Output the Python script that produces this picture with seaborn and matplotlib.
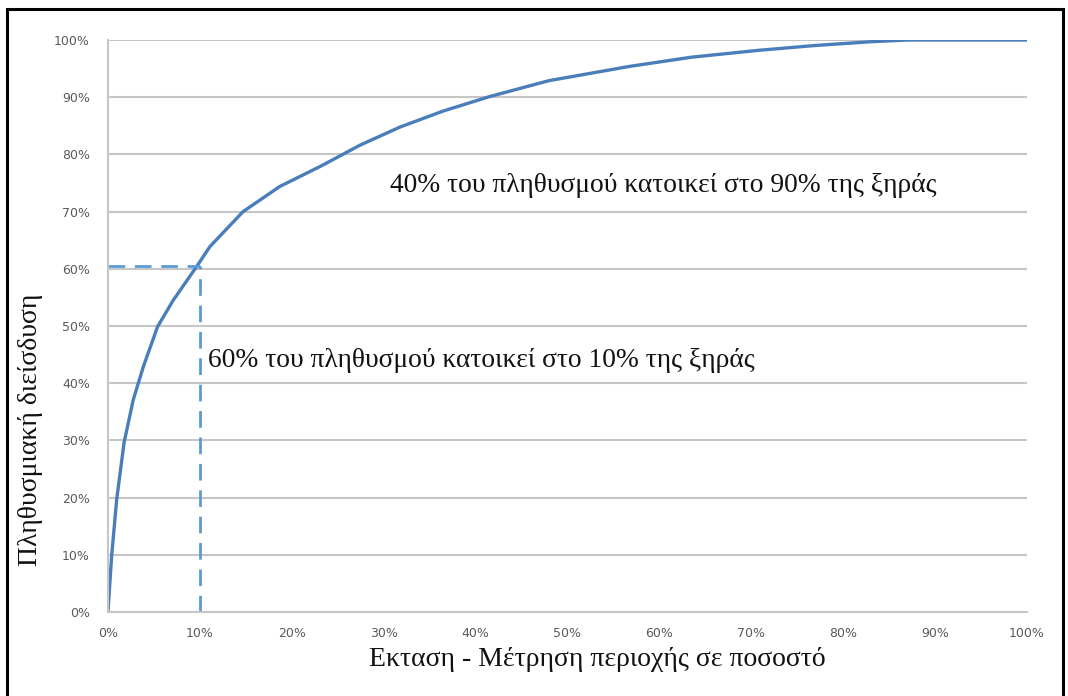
import numpy as np
import pandas as pd
import seaborn as sns
import matplotlib.pyplot as plt
from matplotlib.patches import Rectangle
from matplotlib.ticker import FuncFormatter, MultipleLocator

# cumulative curve (percent of land area vs percent of population)
area = [0, 0.2, 0.4, 0.95, 1.75, 2.75, 3.85, 5.4, 7.1, 9.65, 11.1, 14.7, 18.7, 23.1,
        27.4, 31.8, 36.5, 41.5, 48, 56.8, 63.5, 70.8, 77, 83, 87, 93, 100]
population = [0, 5, 9.8, 19.7, 29.6, 37.1, 42.9, 49.9, 54.5, 60.4, 63.9, 70.0, 74.4, 77.9,
              81.6, 84.8, 87.6, 90.1, 92.9, 95.4, 97.0, 98.2, 99.05, 99.7, 100, 100, 100]

# dashed guide at the 10% / 60% point
guide_x = 10
guide_y = 60.5

ylabel = "Πληθυσμιακή διείσδυση"
xlabel = "Εκταση - Μέτρηση περιοχής σε ποσοστό"
note_low = "60% του πληθυσμού κατοικεί στο 10% της ξηράς"
note_high = "40% του πληθυσμού κατοικεί στο 90% της ξηράς"

df = pd.DataFrame({"area": area, "population": population})

sns.set_style("white")
plt.rcParams["font.family"] = ["DejaVu Sans"]

fig = plt.figure(figsize=(10.68, 6.96), dpi=100)
ax = fig.add_axes([0.1011, 0.1207, 0.8605, 0.8218])

grid_c = "#c6c6c6"
ax.set_xlim(0, 100)
ax.set_ylim(0, 100)
ax.yaxis.set_major_locator(MultipleLocator(10))
ax.xaxis.set_major_locator(MultipleLocator(10))
ax.yaxis.grid(True, color=grid_c, linewidth=1.5)
ax.xaxis.grid(False)
ax.set_axisbelow(True)

sns.lineplot(data=df, x="area", y="population", ax=ax, color="#4a7ebb",
             linewidth=2.4, estimator=None, sort=False)

ax.plot([0, guide_x], [guide_y, guide_y], color="#5b9bd5", linewidth=2,
        linestyle=(0, (6, 3.5)))
ax.plot([guide_x, guide_x], [0, guide_y], color="#5b9bd5", linewidth=2,
        linestyle=(0, (6, 3.5)))

for s in ["top", "right"]:
    ax.spines[s].set_visible(False)
for s in ["left", "bottom"]:
    ax.spines[s].set_color(grid_c)
    ax.spines[s].set_linewidth(1.5)

pct = FuncFormatter(lambda v, p: f"{int(round(v))}%")
ax.xaxis.set_major_formatter(pct)
ax.yaxis.set_major_formatter(pct)
ax.tick_params(axis="both", which="major", length=5, width=1.2, color=grid_c,
               labelsize=9, labelcolor="#595959", direction="out")
ax.tick_params(axis="x", pad=6)
ax.tick_params(axis="y", pad=8)

serif = ["Liberation Serif", "DejaVu Serif"]
ax.set_xlabel(xlabel, family=serif, fontsize=20, color="#111111")
ax.set_ylabel(ylabel, family=serif, fontsize=20, color="#111111")
ax.xaxis.set_label_coords(0.533, -0.062)
ax.yaxis.set_label_coords(-0.071, 0.318)

ax.text(10.9, 44, note_low, family=serif, fontsize=19.8, color="#111111",
        va="center", ha="left")
ax.text(30.7, 74.5, note_high, family=serif, fontsize=19.8, color="#111111",
        va="center", ha="left")

# black frame around the whole picture
fig.patches.append(Rectangle((7 / 1068, -0.02), 1056 / 1068, 1 - 9 / 696 + 0.02,
                             transform=fig.transFigure, fill=False,
                             edgecolor="black", linewidth=2.2))

fig.savefig("out.png", dpi=100)
